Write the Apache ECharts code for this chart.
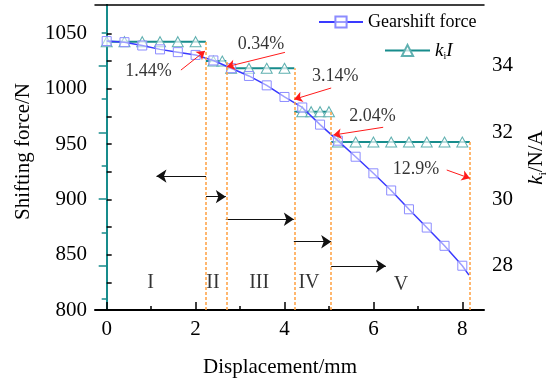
<!DOCTYPE html>
<html>
<head>
<meta charset="utf-8">
<script src="https://cdn.jsdelivr.net/npm/echarts@6/dist/echarts.min.js"></script>
<style>
html,body{margin:0;padding:0;background:#fff;}
#main{width:556px;height:380px;}
</style>
</head>
<body>
<div id="main"></div>
<script>
// gearshift force (left axis)
var forceX = [0, 0.4, 0.8, 1.2, 1.6, 2.0, 2.4, 2.8, 3.2, 3.6, 4.0, 4.4, 4.8, 5.2, 5.6, 6.0, 6.4, 6.8, 7.2, 7.6, 8.0, 8.15];
var forceY = [1043, 1042, 1039, 1035.5, 1033, 1030.5, 1025.5, 1018.5, 1011.5, 1003, 992.5, 983, 967.5, 953, 938.5, 923.5, 908, 891, 874.5, 858, 840, 831.5];

// k_i I steps (right axis)
var kiStart = [0, 2.23, 2.69, 4.22, 5.05];
var kiEnd = [2.23, 2.69, 4.22, 5.05, 8.17];
var kiValue = [34.72, 34.14, 33.92, 32.62, 31.71];
var kiMarks = [
	[0, 0.4, 0.8, 1.2, 1.6, 2.0],
	[2.4, 2.6],
	[2.8, 3.2, 3.6, 4.0],
	[4.4, 4.6, 4.8, 5.0],
	[5.2, 5.6, 6.0, 6.4, 6.8, 7.2, 7.6, 8.0]
];

// ticks
var xLabels = [0, 2, 4, 6, 8];
var xMinor = [1, 3, 5, 7];
var leftLabels = [800, 850, 900, 950, 1000, 1050];
var leftTicks = [825, 850, 875, 900, 925, 950, 975, 1000, 1025, 1050];
var rightLabels = [28, 30, 32, 34];
var rightMinor = [27, 29, 31, 33, 35];

// annotations
var blackFrom = [[2.235, 921], [2.235, 902.4], [2.68, 882], [4.21, 861.7], [5.05, 839.7]];
var blackTo = [[1.12, 921], [2.68, 902.4], [4.21, 882], [5.05, 861.7], [6.28, 839.7]];
var redFrom = [[1.67, 1016.8], [4.01, 1032.8], [5.05, 1000.6], [6.22, 965.1], [7.65, 926.5]];
var redTo = [[2.21, 1034], [2.70, 1019.8], [4.22, 990.4], [5.10, 958.1], [8.17, 919]];
var pctText = ['1.44%', '0.34%', '3.14%', '2.04%', '12.9%'];
var pctPos = [[0.94, 1015.7], [3.47, 1040.3], [5.14, 1011.4], [5.98, 975.5], [6.96, 927]];
var romanText = ['I', 'II', 'III', 'IV', 'V'];
var romanPos = [[0.99, 825], [2.39, 825], [3.43, 825], [4.55, 825], [6.62, 822.5]];

var xMin = -0.263, xMax = 8.488;
var lMin = 800, lMax = 1075.6;
var rMin = 26.67, rMax = 35.82;
var serif = '"Liberation Serif", "Times New Roman", serif';
var teal = '#178c8c';

var forceData = [];
for (var i = 0; i < forceX.length; i++) {
	var d = {value: [forceX[i], forceY[i]]};
	if (i == forceX.length - 1) d.symbol = 'none';
	forceData.push(d);
}

var series = [];
series.push({
	name: 'Gearshift force', type: 'line', xAxisIndex: 0, yAxisIndex: 0,
	data: forceData, symbol: 'rect', symbolSize: 9,
	lineStyle: {color: '#3a3aff', width: 1.5},
	itemStyle: {color: 'rgba(255,255,255,0.5)', borderColor: '#8c8cff', borderWidth: 1},
	z: 3,
	markLine: {
		silent: true, symbol: ['none', 'arrow'], symbolSize: 10,
		label: {show: false},
		lineStyle: {color: '#111', width: 1, type: 'solid'},
		data: blackFrom.map(function (f, k) { return [{coord: f}, {coord: blackTo[k]}]; })
	}
});

for (var s = 0; s < kiValue.length; s++) {
	var v = kiValue[s];
	var d2 = [{value: [kiStart[s], v], symbol: 'none'}];
	for (var j = 0; j < kiMarks[s].length; j++) d2.push([kiMarks[s][j], v]);
	d2.push({value: [kiEnd[s], v], symbol: 'none'});
	var ser = {
		name: 'kI', type: 'line', xAxisIndex: 0, yAxisIndex: 1,
		data: d2, symbol: 'triangle', symbolSize: [11, 10],
		lineStyle: {color: teal, width: 2},
		itemStyle: {color: 'rgba(255,255,255,0.7)', borderColor: '#5fb0b0', borderWidth: 1},
		z: 2
	};
	if (s == 0) {
		ser.markLine = {
			silent: true, symbol: ['none', 'none'], label: {show: false},
			lineStyle: {color: '#ffa040', width: 1.5, type: [3, 2]},
			data: kiEnd.map(function (x, k) { return [{coord: [x, rMin]}, {coord: [x, kiValue[k]]}]; })
		};
	}
	series.push(ser);
}

var textData = [];
for (var p = 0; p < pctText.length; p++) {
	textData.push({name: pctText[p], value: pctPos[p], label: {fontSize: 18}});
}
for (var r = 0; r < romanText.length; r++) {
	textData.push({name: romanText[r], value: romanPos[r], label: {fontSize: 20}});
}
series.push({
	type: 'scatter', xAxisIndex: 0, yAxisIndex: 0, symbolSize: 1,
	itemStyle: {color: 'rgba(0,0,0,0)'}, silent: true,
	label: {show: true, position: 'inside', formatter: '{b}', color: '#000', fontFamily: serif},
	data: textData,
	markLine: {
		silent: true, symbol: ['none', 'arrow'], symbolSize: 8,
		label: {show: false},
		lineStyle: {color: '#ff1a1a', width: 1, type: 'solid'},
		data: redFrom.map(function (f, k) { return [{coord: f}, {coord: redTo[k]}]; })
	}
});

var labelStyle = {color: '#000', fontSize: 21, fontFamily: serif};
function plain(v) { return String(v); }

var option = {
	animation: false,
	backgroundColor: '#fff',
	textStyle: {fontFamily: serif},
	grid: {left: 95, right: 72, top: 5, bottom: 70, outerBoundsMode: 'none'},
	legend: [{
		data: ['Gearshift force'], left: 313, top: 8, itemWidth: 44, itemHeight: 14, itemGap: 5,
		textStyle: {color: '#000', fontSize: 18, fontFamily: serif}
	}, {
		data: ['kI'], left: 379, top: 36, itemWidth: 45, itemHeight: 14,
		formatter: function () { return '{k|k}{s|i}{k|I}'; },
		textStyle: {color: '#000', fontSize: 18, fontFamily: serif,
			rich: {k: {fontStyle: 'italic', fontSize: 19, fontFamily: serif}, s: {fontSize: 10, fontFamily: serif, verticalAlign: 'bottom', padding: [12, 0, 0, 0]}}}
	}],
	xAxis: [{
		type: 'value', position: 'bottom', min: xMin, max: xMax,
		axisLine: {lineStyle: {color: '#000', width: 2}},
		axisTick: {inside: true, length: 8, customValues: xLabels, lineStyle: {color: '#000', width: 1.5}},
		axisLabel: Object.assign({customValues: xLabels, margin: 9, formatter: plain}, labelStyle),
		splitLine: {show: false},
		name: 'Displacement/mm', nameLocation: 'middle', nameGap: 47,
		nameTextStyle: Object.assign({padding: [0, 19, 0, 0]}, labelStyle)
	}, {
		type: 'value', position: 'bottom', min: xMin, max: xMax,
		axisLine: {show: false},
		axisTick: {inside: true, length: 4, customValues: xMinor, lineStyle: {color: '#000', width: 1.5}},
		axisLabel: {show: false}, splitLine: {show: false}
	}, {
		type: 'value', position: 'top', min: xMin, max: xMax,
		axisLine: {lineStyle: {color: '#000', width: 1.5}},
		axisTick: {show: false}, axisLabel: {show: false}, splitLine: {show: false}
	}],
	yAxis: [{
		type: 'value', position: 'left', min: lMin, max: lMax,
		axisLine: {show: true, lineStyle: {color: '#000', width: 2}},
		axisTick: {show: true, inside: true, length: 5, customValues: leftTicks, lineStyle: {color: '#000', width: 1.5}},
		axisLabel: Object.assign({customValues: leftLabels, margin: 8, formatter: plain}, labelStyle),
		splitLine: {show: false},
		name: 'Shifting force/N', nameLocation: 'middle', nameRotate: 90, nameGap: 52,
		nameTextStyle: Object.assign({padding: [0, 0, 0, 12]}, labelStyle)
	}, {
		type: 'value', position: 'right', min: rMin, max: rMax,
		axisLine: {show: true, lineStyle: {color: teal, width: 2}},
		axisTick: {show: true, inside: true, length: 8, customValues: rightLabels, lineStyle: {color: teal, width: 1.5}},
		axisLabel: Object.assign({customValues: rightLabels, margin: 8, formatter: plain}, labelStyle),
		splitLine: {show: false},
		name: '{k|k}{s|i}{t|/N/A}', nameLocation: 'middle', nameRotate: 90, nameGap: 40,
		nameTextStyle: Object.assign({
			rich: {
				k: {fontStyle: 'italic', fontSize: 21, fontFamily: serif, color: '#000'},
				s: {fontSize: 11, fontFamily: serif, color: '#000', verticalAlign: 'bottom', padding: [14, 0, 0, 0]},
				t: {fontSize: 21, fontFamily: serif, color: '#000'}
			}
		}, labelStyle)
	}, {
		type: 'value', position: 'right', min: rMin, max: rMax,
		axisLine: {show: false},
		axisTick: {show: true, inside: true, length: 5, customValues: rightMinor, lineStyle: {color: teal, width: 1.5}},
		axisLabel: {show: false}, splitLine: {show: false}
	}],
	series: series
};

var chart = echarts.init(document.getElementById('main'));
chart.setOption(option);
</script>
</body>
</html>
